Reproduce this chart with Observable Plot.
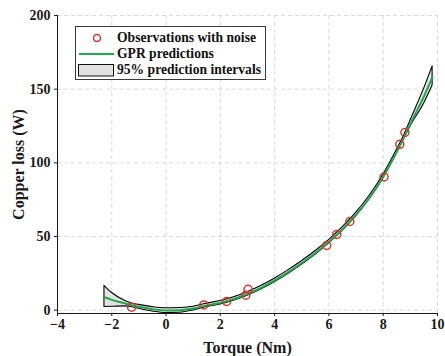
<!DOCTYPE html>
<html>
<head>
<meta charset="utf-8">
<script src="https://cdn.jsdelivr.net/npm/d3@7"></script>
<script src="https://cdn.jsdelivr.net/npm/@observablehq/plot@0.6"></script>
<style>
  body { margin: 0; background: #fff; }
  #wrap { position: relative; width: 445px; height: 356px; font-family: "Liberation Serif", "Times New Roman", serif; font-weight: bold; }
  #legend { position: absolute; left: 75px; top: 26px; width: 189px; height: 52px; border: 1px solid #3a3a3a; background: #fff; font-size: 13.6px; color: #111; }
  #legend .row { position: absolute; left: 0; height: 16px; width: 189px; }
  #legend .lbl { position: absolute; left: 41px; top: 0; line-height: 16px; white-space: nowrap; }
  #legend svg { position: absolute; left: 0; top: 0; }
</style>
</head>
<body>
<div id="wrap">
  <div id="chart"></div>
  <div id="legend">
    <div class="row" style="top:3px"><svg width="40" height="16"><circle cx="21" cy="8" r="3.5" fill="none" stroke="#d1392c" stroke-width="1.5"/></svg><span class="lbl">Observations with noise</span></div>
    <div class="row" style="top:19px"><svg width="40" height="16"><line x1="3" x2="38" y1="8" y2="8" stroke="#20a84c" stroke-width="2"/></svg><span class="lbl">GPR predictions</span></div>
    <div class="row" style="top:35px"><svg width="40" height="16"><rect x="2.5" y="2.5" width="35" height="11.5" fill="#e2e2e2" stroke="#111" stroke-width="1"/></svg><span class="lbl">95% prediction intervals</span></div>
  </div>
</div>
<script>
// Observations with noise
const obsTorque = [-1.27, 1.39, 2.23, 2.94, 3.02, 5.92, 6.29, 6.77, 8.03, 8.61, 8.80];
const obsLoss   = [2.0, 3.6, 5.9, 10.2, 14.2, 43.9, 51.4, 60.2, 90.4, 112.6, 120.6];

// GPR predictions and 95% prediction intervals
const predTorque = [-2.27, -2, -1.5, -1.27, -1, -0.5, 0, 0.5, 1, 1.39, 2, 2.5, 3, 3.5, 4, 4.5, 5, 5.5, 6, 6.5, 7, 7.5, 8, 8.5, 8.8, 9, 9.5, 9.82];
const predMean   = [8.8, 7.0, 4.5, 3.4, 2.3, 0.7, -0.2, 0.0, 1.1, 2.8, 5.0, 7.6, 11.0, 15.2, 20.2, 25.8, 32.0, 38.8, 46.4, 55.0, 64.8, 76.5, 90.5, 107.5, 118.5, 126.5, 145.0, 158.5];
const predUpper  = [16.5, 11.8, 6.2, 4.6, 3.6, 2.1, 1.3, 1.5, 2.3, 4.0, 6.2, 8.8, 12.2, 16.4, 21.4, 27.0, 33.2, 40.0, 47.6, 56.2, 66.0, 77.7, 91.7, 108.7, 119.8, 128.5, 150.0, 165.5];
const predLower  = [2.2, 2.3, 2.6, 2.2, 1.0, -0.9, -2.0, -1.7, -0.2, 1.6, 3.8, 6.4, 9.8, 14.0, 19.0, 24.6, 30.8, 37.6, 45.2, 53.8, 63.6, 75.3, 89.3, 106.3, 117.2, 124.5, 140.0, 152.5];

const xTicks = [-4, -2, 0, 2, 4, 6, 8, 10];
const yTicks = [0, 50, 100, 150, 200];
const xLabel = "Torque (Nm)";
const yLabel = "Copper loss (W)";

const obs = obsTorque.map((x, i) => ({x, y: obsLoss[i]}));
const pred = predTorque.map((x, i) => ({x, m: predMean[i], lo: predLower[i], hi: predUpper[i]}));

const yMin = -2.25;
const gridStyle = {stroke: "#cfcfcf", strokeOpacity: 1, strokeWidth: 0.8, strokeDasharray: "4,3"};

const chart = Plot.plot({
  width: 445,
  height: 356,
  marginLeft: 57,
  marginRight: 8,
  marginTop: 15,
  marginBottom: 43,
  x: {domain: [-4, 10]},
  y: {domain: [yMin, 200]},
  style: {fontFamily: "'Liberation Serif', 'Times New Roman', serif", fontWeight: "bold", fontSize: "14px", color: "#1a1a1a", background: "#fff"},
  marks: [
    Plot.gridX(xTicks.slice(1), gridStyle),
    Plot.gridY(yTicks, gridStyle),
    Plot.areaY(pred, {x: "x", y1: "lo", y2: "hi", fill: "#e2e2e2", stroke: "#000", strokeWidth: 1.1, curve: "monotone-x"}),
    Plot.lineY(pred, {x: "x", y: "m", stroke: "#20a84c", strokeWidth: 2, curve: "monotone-x"}),
    Plot.dot(obs, {x: "x", y: "y", r: 4, fill: "none", stroke: "#d1392c", strokeWidth: 1.5}),
    Plot.ruleX([-4], {stroke: "#1a1a1a", strokeWidth: 1}),
    Plot.ruleY([yMin], {stroke: "#1a1a1a", strokeWidth: 1}),
    Plot.axisX(xTicks, {tickSize: 3, tickPadding: 3, fontSize: 14, label: null, stroke: "#1a1a1a"}),
    Plot.axisY(yTicks, {tickSize: 3, tickPadding: 4, fontSize: 14, label: null, stroke: "#1a1a1a"}),
    Plot.text([xLabel], {frameAnchor: "bottom", lineAnchor: "middle", dy: 34, fontSize: 16, fontWeight: "bold", fill: "#1a1a1a"}),
    Plot.text([yLabel], {frameAnchor: "left", textAnchor: "middle", lineAnchor: "middle", dx: -39, rotate: -90, fontSize: 16, fontWeight: "bold", fill: "#1a1a1a"})
  ]
});
document.getElementById("chart").appendChild(chart);
</script>
</body>
</html>
